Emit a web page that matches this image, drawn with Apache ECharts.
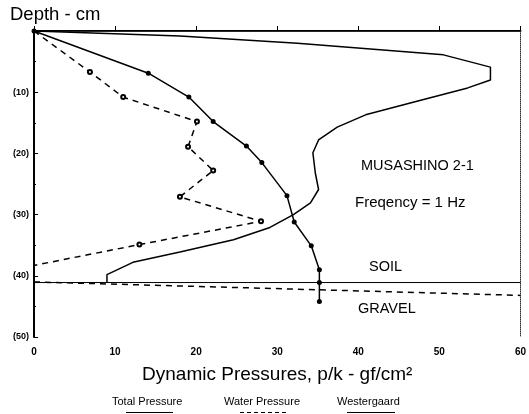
<!DOCTYPE html>
<html><head><meta charset="utf-8">
<script src="https://cdn.jsdelivr.net/npm/echarts@6/dist/echarts.min.js"></script>
<style>html,body{margin:0;padding:0;background:#fff}#c{width:529px;height:414px}</style>
</head><body><div id="c"></div>
<script>
// Data: [pressure, depth]
const totalPressure = [[0,0],[18,0.8],[32.5,2.0],[50.5,3.9],[56.3,5.9],[56.3,8.0],[53.5,9.3],[47.7,11.3],[40.9,13.7],[37.4,15.7],[35.1,17.8],[34.4,19.9],[34.7,23.2],[35.1,25.9],[34.1,28.1],[32.0,30.0],[29.1,32.1],[24.6,34.1],[18.0,36.1],[12.2,37.8],[9.0,39.8],[9.0,41.1]];
const waterPressure = [[0,0],[6.9,6.7],[11.0,10.8],[20.1,14.8],[19.0,18.9],[22.1,22.8],[18.0,27.1],[28.0,31.1],[13.0,34.9],[0,38.3]];
const westergaard = [[0,0],[14.1,6.9],[19.1,10.8],[22.1,14.8],[26.2,18.8],[28.1,21.5],[31.2,26.9],[32.1,31.2],[34.2,35.1],[35.2,39.0],[35.2,41.1],[35.2,44.2]];
const soilLine = [[0,41.1],[60,41.1]];
const gravelLine = [[0,41.0],[60,43.2]];
const xTicks = [0,10,20,30,40,50,60];
const yTicks = [10,20,30,40,50];
const annotations = ['MUSASHINO 2-1','Freqency = 1 Hz','SOIL','GRAVEL'];
const legendNames = ['Total Pressure','Water Pressure','Westergaard'];

const FONT = '"Liberation Sans", Arial, sans-serif';
const waterData = waterPressure.map((p,i)=> (i===0 || i===waterPressure.length-1) ? {value:p, symbol:'none'} : {value:p});
const chart = echarts.init(document.getElementById('c'), null, {renderer:'canvas'});
chart.setOption({
  animation:false,
  backgroundColor:'#fff',
  grid:{left:34, top:31, right:7, bottom:77, show:false},
  xAxis:[{
    type:'value', min:0, max:60, interval:10, position:'bottom',
    axisLine:{show:true, lineStyle:{color:'#000', width:2}},
    axisTick:{show:true, inside:true, length:5, lineStyle:{color:'#000'}},
    axisLabel:{color:'#000', fontSize:10, fontWeight:'bold', fontFamily:FONT, margin:10,
      formatter:v=> xTicks.includes(v)? String(v):''},
    splitLine:{show:false},
    name:'Dynamic Pressures, p/k - gf/cm²', nameLocation:'middle', nameGap:28,
    nameTextStyle:{color:'#000', fontSize:19, fontFamily:FONT}
  },{
    type:'value', min:0, max:60, position:'top',
    axisLine:{show:true, onZero:false, lineStyle:{color:'#333', width:1, type:'dotted'}},
    axisTick:{show:false}, axisLabel:{show:false}, splitLine:{show:false}
  }],
  yAxis:[{
    type:'value', min:0, max:50, interval:10, inverse:true,
    axisLine:{show:true, lineStyle:{color:'#000', width:2}},
    axisTick:{show:true, inside:true, length:4, lineStyle:{color:'#000'}},
    minorTick:{show:true, splitNumber:2, length:2, lineStyle:{color:'#000'}},
    axisLabel:{color:'#000', fontSize:9, fontWeight:'bold', fontFamily:FONT, margin:5,
      formatter:v=> yTicks.includes(v)? '('+v+')':''},
    splitLine:{show:false}
  },{
    type:'value', min:0, max:50, inverse:true, position:'right',
    axisLine:{show:true, onZero:false, lineStyle:{color:'#333', width:1, type:'dotted'}},
    axisTick:{show:false}, axisLabel:{show:false}, splitLine:{show:false}
  }],
  series:[
    {name:legendNames[0], type:'line', data:totalPressure, symbol:'none',
      lineStyle:{color:'#000', width:1.5}},
    {name:legendNames[1], type:'line', data:waterData, symbol:'emptyCircle', symbolSize:4, showAllSymbol:true,
      itemStyle:{color:'#000', borderWidth:1},
      lineStyle:{color:'#000', width:1.5, type:[6,5]}},
    {name:legendNames[2], type:'line', data:westergaard, symbol:'circle', symbolSize:5,
      itemStyle:{color:'#000'}, lineStyle:{color:'#000', width:1.5}},
    {name:'soil', type:'line', data:soilLine, symbol:'none', lineStyle:{color:'#000', width:1}},
    {name:'gravel', type:'line', data:gravelLine, symbol:'none', lineStyle:{color:'#000', width:1.5, type:[6,5]}}
  ],
  graphic:[
    {type:'text', left:10, top:5, style:{text:'Depth - cm', fontSize:18.5, fontFamily:FONT, fill:'#000'}},
    {type:'text', left:361, top:158, style:{text:annotations[0], fontSize:14.5, fontFamily:FONT, fill:'#000'}},
    {type:'text', left:355, top:195, style:{text:annotations[1], fontSize:15, fontFamily:FONT, fill:'#000'}},
    {type:'text', left:369, top:259, style:{text:annotations[2], fontSize:14.5, fontFamily:FONT, fill:'#000'}},
    {type:'text', left:358, top:301, style:{text:annotations[3], fontSize:14.5, fontFamily:FONT, fill:'#000'}},
    {type:'text', left:112, top:396, style:{text:legendNames[0], fontSize:11, fontFamily:FONT, fill:'#000'}},
    {type:'text', left:224, top:396, style:{text:legendNames[1], fontSize:11, fontFamily:FONT, fill:'#000'}},
    {type:'text', left:337, top:396, style:{text:legendNames[2], fontSize:11, fontFamily:FONT, fill:'#000'}},
    {type:'line', shape:{x1:126,y1:412.5,x2:173,y2:412.5}, style:{stroke:'#000', lineWidth:1}},
    {type:'line', shape:{x1:240,y1:412.5,x2:287,y2:412.5}, style:{stroke:'#000', lineWidth:1, lineDash:[4,3]}},
    {type:'line', shape:{x1:347,y1:412.5,x2:395,y2:412.5}, style:{stroke:'#000', lineWidth:1}}
  ]
});
</script></body></html>
